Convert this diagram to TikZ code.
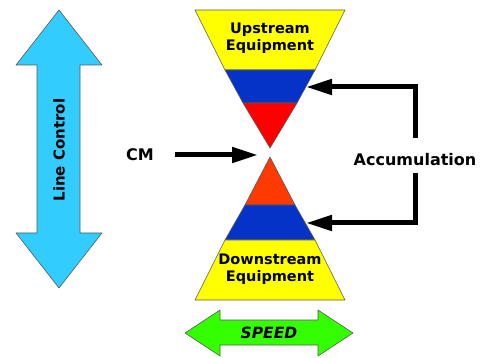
\documentclass[tikz,border=0pt]{standalone}
\usepackage{fontspec}
\setmainfont{DejaVu Sans}
\usetikzlibrary{arrows.meta}

\definecolor{funnelyellow}{HTML}{FFFF00}
\definecolor{funnelblue}{HTML}{0533C8}
\definecolor{funnelred}{HTML}{FF0000}
\definecolor{funnelorange}{HTML}{FF3A00}
\definecolor{controlblue}{HTML}{33CCFF}
\definecolor{speedgreen}{HTML}{33FF00}

\begin{document}
\begin{tikzpicture}[x=1pt, y=-1pt,
    band/.style={draw=black!65, line width=0.6pt, line join=round},
    push/.style={line width=5pt, -{Triangle[length=26pt, width=15pt]}},
    tag/.style={font=\bfseries\fontsize{16}{18}\selectfont, inner sep=0pt},
    small tag/.style={font=\bfseries\fontsize{14.5}{17}\selectfont, align=center, inner sep=0pt}]
  \useasboundingbox (0,0) rectangle (482,358);

  % upstream funnel
  \filldraw[band, fill=funnelyellow] (195,10) -- (345,10) -- (315,70) -- (225,70) -- cycle;
  \filldraw[band, fill=funnelblue] (225,70) -- (315,70) -- (297,103) -- (243,103) -- cycle;
  \filldraw[band, fill=funnelred] (243,103) -- (297,103) -- (270,148) -- cycle;
  \node[small tag] (up) at (270,38) {Upstream\\Equipment};

  % downstream funnel
  \filldraw[band, fill=funnelorange] (270,157) -- (295,205) -- (245,205) -- cycle;
  \filldraw[band, fill=funnelblue] (245,205) -- (295,205) -- (315,240) -- (225,240) -- cycle;
  \filldraw[band, fill=funnelyellow] (225,240) -- (315,240) -- (345,300) -- (195,300) -- cycle;
  \node[small tag] (down) at (270,269) {Downstream\\Equipment};

  \coordinate (waist) at (258,155);
  \coordinate (upband) at (306,87);
  \coordinate (lowband) at (306,223);

  % line control (vertical double arrow)
  \filldraw[band, fill=controlblue]
    (59,10) -- (102,65) -- (80,65) -- (80,233) -- (102,233) -- (59,288)
    -- (16,233) -- (37,233) -- (37,65) -- (16,65) -- cycle;
  \node[tag, font=\bfseries\fontsize{15}{17}\selectfont, rotate=90] (ctrl) at (59,150) {Line Control};

  % speed (horizontal double arrow)
  \filldraw[band, fill=speedgreen]
    (185,333) -- (220,310) -- (220,320) -- (318,320) -- (318,310) -- (353,333)
    -- (318,356) -- (318,345) -- (220,345) -- (220,356) -- cycle;
  \node[tag, font=\bfseries\itshape\fontsize{15.5}{17}\selectfont] (speed) at (269,333) {SPEED};

  % CM feed and accumulation returns
  \node[tag] (cm) at (140,155) {CM};
  \draw[push] (cm.east -| 175,0) -- (waist);

  \node[tag] (acc) at (415,160) {Accumulation};
  \draw[push] ([yshift=22pt]acc.center) |- (upband);
  \draw[push] ([yshift=-13pt]acc.center) |- (lowband);
\end{tikzpicture}
\end{document}
